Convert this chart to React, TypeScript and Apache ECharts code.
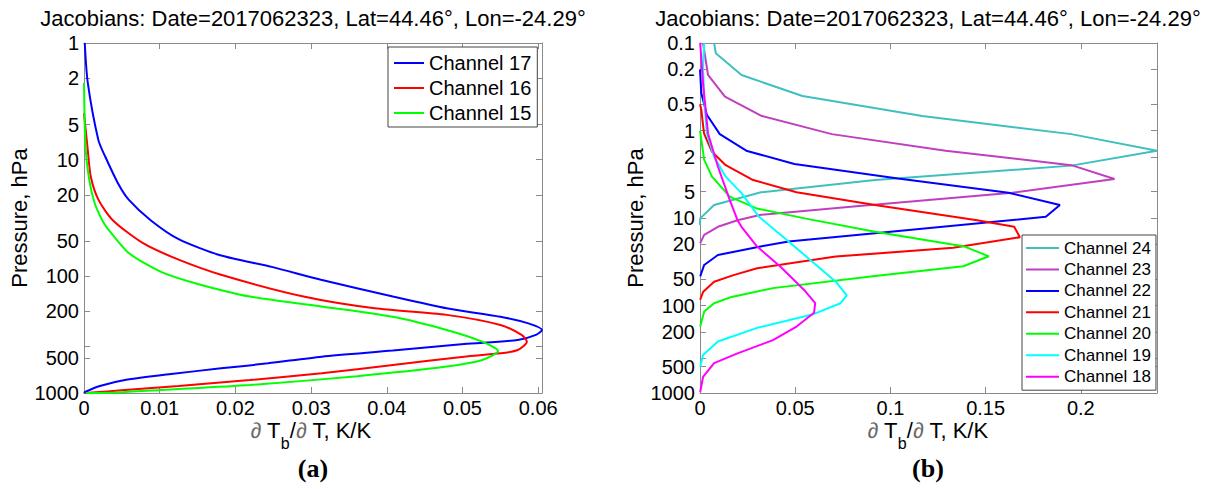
import React, { useEffect, useRef } from 'react';
import * as echarts from 'echarts';

const FONT = "'Liberation Sans', Arial, Helvetica, sans-serif";
const SERIF = "'Liberation Serif', 'Times New Roman', serif";
const TITLE = 'Jacobians: Date=2017062323, Lat=44.46°, Lon=-24.29°';

// ---------- axis ticks ----------
const leftXTicks = [0, 0.01, 0.02, 0.03, 0.04, 0.05, 0.06];
const rightXTicks = [0, 0.05, 0.1, 0.15, 0.2];
const leftPLabels = [1, 2, 5, 10, 20, 50, 100, 200, 500, 1000];
const leftPTicks = [1, 2, 5, 10, 20, 50, 100, 200, 400, 500, 1000];
const rightPLabels = [0.1, 0.2, 0.5, 1, 2, 5, 10, 20, 50, 100, 200, 500, 1000];
const rightPTicks = [0.1, 0.2, 0.5, 1, 2, 5, 10, 20, 50, 100, 200, 400, 500, 1000];

// ---------- panel (a) ----------
const ch17P = [1, 2.2, 6.8, 9.4, 16, 22, 33, 48, 66, 83, 107, 149, 188, 222, 253, 288, 318, 351, 380, 433, 488, 557, 615, 687, 774, 871, 975, 1000];
const ch17V = [0.0001, 0.0005, 0.0019, 0.0028, 0.0045, 0.0059, 0.0088, 0.0125, 0.018, 0.0248, 0.0313, 0.0408, 0.0479, 0.055, 0.0587, 0.0605, 0.0597, 0.0573, 0.0502, 0.0408, 0.0314, 0.0243, 0.0181, 0.0115, 0.0054, 0.0021, 0.0002, 0];

const ch16P = [4, 8.3, 14, 22, 33, 52, 72, 97, 149, 188, 214, 261, 318, 363, 428, 457, 488, 575, 678, 774, 871, 943, 1000];
const ch16V = [0, 0.0005, 0.0009, 0.0019, 0.0038, 0.0078, 0.0125, 0.0181, 0.029, 0.0384, 0.0479, 0.055, 0.0578, 0.0585, 0.0573, 0.055, 0.0502, 0.0408, 0.0314, 0.0219, 0.0125, 0.0054, 0.0002];

const ch15P = [2.2, 7.7, 15, 23.5, 33, 38, 63, 91, 115, 149, 181, 222, 288, 363, 437, 522, 594, 718, 855, 943, 990, 1000];
const ch15V = [0, 0.0002, 0.0007, 0.0014, 0.0024, 0.003, 0.0059, 0.0101, 0.0148, 0.0219, 0.0314, 0.0408, 0.0479, 0.0526, 0.0547, 0.0526, 0.0479, 0.0361, 0.0219, 0.0101, 0.0045, 0.0003];

// ---------- panel (b) ----------
const ch24P = [0.1, 0.131, 0.232, 0.404, 0.683, 1.1, 1.7, 2.52, 3.68, 5.08, 7.1, 10.1, 12];
const ch24V = [0.0074, 0.0083, 0.0218, 0.0538, 0.1167, 0.195, 0.24, 0.195, 0.0919, 0.032, 0.0074, 0.0001, 0];

const ch23P = [0.1, 0.232, 0.41, 0.683, 1.1, 1.7, 2.49, 3.58, 5.14, 7.3, 9.2, 10.6, 12.6, 15.6, 19.4];
const ch23V = [0.0016, 0.0042, 0.0131, 0.0325, 0.0692, 0.129, 0.195, 0.2177, 0.164, 0.0836, 0.032, 0.0197, 0.0094, 0.0022, 0.0001];

const ch22P = [0.2, 0.376, 0.66, 1.1, 1.7, 2.42, 3.53, 5.14, 7.1, 9.7, 14.6, 18.6, 20.9, 26.5, 34.4, 46.5];
const ch22V = [0, 0.0007, 0.0036, 0.0104, 0.0243, 0.0496, 0.104, 0.162, 0.189, 0.1816, 0.096, 0.0465, 0.0331, 0.0094, 0.0022, 0.0001];

const ch21P = [0.5, 0.58, 1.08, 1.75, 2.49, 3.68, 5.08, 7.1, 10.6, 12.6, 16.6, 21.9, 27.6, 37.6, 45, 53.5, 69.6, 86];
const ch21V = [0, 0.0007, 0.0021, 0.0063, 0.0135, 0.0279, 0.0507, 0.0919, 0.1455, 0.165, 0.168, 0.133, 0.0713, 0.03, 0.0176, 0.0074, 0.0017, 0.0001];

const ch20P = [1, 1.28, 2.17, 3.37, 5.7, 7.8, 10.1, 14.4, 21.2, 27.4, 35.6, 46, 63.3, 79.8, 94.2, 117, 174];
const ch20V = [0, 0.0007, 0.0022, 0.0063, 0.0156, 0.03, 0.055, 0.0919, 0.139, 0.1517, 0.1383, 0.0919, 0.0383, 0.0166, 0.0074, 0.0022, 0.0001];

const ch19P = [0.1, 0.19, 0.45, 1.08, 2.0, 3.37, 5.2, 9.7, 19.4, 53.5, 76.6, 94.2, 127, 180, 258, 368, 505];
const ch19V = [0.0022, 0.0016, 0.0022, 0.0036, 0.0074, 0.0135, 0.0218, 0.031, 0.0476, 0.0713, 0.0771, 0.0738, 0.0589, 0.03, 0.0094, 0.0016, 0.0001];

const ch18P = [0.1, 0.289, 1.08, 2.58, 6.2, 10.6, 12.6, 21.2, 36.3, 66.8, 94.2, 121, 174, 249, 352, 455, 656, 975];
const ch18V = [0.0001, 0.0016, 0.0042, 0.0094, 0.0156, 0.0197, 0.0218, 0.03, 0.0424, 0.0548, 0.0605, 0.0599, 0.0507, 0.0383, 0.0197, 0.0074, 0.0016, 0.0001];

const FRAME = '#8a8a8a';

function pairs(v: number[], p: number[]) {
  return v.map((x, i) => [x, p[i]]);
}

function fmt(v: number) {
  return String(Number(Number(v).toPrecision(6)));
}

function xAxes(gridIndex: number, max: number, ticks: number[]) {
  const base: any = {
    type: 'value',
    gridIndex,
    min: 0,
    max,
    splitLine: { show: false },
    axisLine: { show: true, onZero: false, lineStyle: { color: FRAME, width: 1 } },
    axisTick: { show: true, inside: true, length: 6, customValues: ticks, lineStyle: { color: FRAME } },
  };
  return [
    {
      ...base,
      position: 'bottom',
      axisLabel: { customValues: ticks, formatter: fmt, color: '#000', fontSize: 20, fontFamily: FONT, margin: 5 },
    },
    { ...base, position: 'top', axisLabel: { show: false } },
  ];
}

function yAxes(gridIndex: number, min: number, labels: number[], ticks: number[]) {
  const base: any = {
    type: 'log',
    logBase: 10,
    gridIndex,
    min,
    max: 1000,
    inverse: true,
    splitLine: { show: false },
    minorTick: { show: false },
    axisLine: { show: true, onZero: false, lineStyle: { color: FRAME, width: 1 } },
    axisTick: { show: true, inside: true, length: 6, customValues: ticks, lineStyle: { color: FRAME } },
  };
  return [
    {
      ...base,
      position: 'left',
      axisLabel: { customValues: labels, formatter: fmt, color: '#000', fontSize: 20, fontFamily: FONT, margin: 5 },
      name: 'Pressure, hPa',
      nameLocation: 'middle',
      nameRotate: 90,
      nameGap: 53,
      nameTextStyle: { color: '#000', fontSize: 22, fontFamily: FONT },
    },
    { ...base, position: 'right', axisLabel: { show: false } },
  ];
}

function line(name: string, color: string, v: number[], p: number[], xi: number, yi: number, smooth: boolean) {
  return {
    type: 'line',
    name,
    xAxisIndex: xi,
    yAxisIndex: yi,
    data: pairs(v, p),
    showSymbol: false,
    symbol: 'none',
    smooth: smooth ? 0.25 : false,
    lineStyle: { color, width: 2 },
    itemStyle: { color },
    color,
    silent: true,
  };
}

// x-axis title pieces: "∂ T_b/∂ T, K/K"
const XNAME_PIECES = [
  { t: '∂', c: '#6a6a6a', sub: false },
  { t: ' T', c: '#000', sub: false },
  { t: 'b', c: '#000', sub: true },
  { t: '/', c: '#000', sub: false },
  { t: '∂', c: '#6a6a6a', sub: false },
  { t: ' T, K/K', c: '#000', sub: false },
];

function xNameGraphics(cx: number, y: number) {
  const canvas = document.createElement('canvas');
  const ctx = canvas.getContext('2d') as CanvasRenderingContext2D;
  const sizes = XNAME_PIECES.map((p) => (p.sub ? 16 : 22));
  const widths = XNAME_PIECES.map((p, i) => {
    ctx.font = `${sizes[i]}px ${FONT}`;
    return ctx.measureText(p.t).width;
  });
  const total = widths.reduce((a, b) => a + b, 0);
  let x = cx - total / 2;
  return XNAME_PIECES.map((p, i) => {
    const el = {
      type: 'text',
      x,
      y: p.sub ? y + 13 : y,
      silent: true,
      style: {
        text: p.t,
        fill: p.c,
        fontSize: sizes[i],
        fontFamily: FONT,
        align: 'left',
        verticalAlign: 'middle',
      },
    };
    x += widths[i];
    return el;
  });
}

export default function App() {
  const ref = useRef<HTMLDivElement>(null);

  useEffect(() => {
    if (!ref.current) return;
    const chart = echarts.init(ref.current, null, { renderer: 'svg' });
    const legendBase: any = {
      orient: 'vertical',
      icon: 'rect',
      itemHeight: 2,
      borderColor: '#444',
      borderWidth: 1,
      borderRadius: 0,
      backgroundColor: '#fff',
      selectedMode: false,
    };
    const option: any = {
      animation: false,
      backgroundColor: '#fff',
      grid: [
        { left: 84, top: 43, width: 458, height: 350, containLabel: false, outerBoundsMode: 'none' },
        { left: 700, top: 43, width: 457, height: 350, containLabel: false, outerBoundsMode: 'none' },
      ],
      xAxis: [...xAxes(0, 0.0605, leftXTicks), ...xAxes(1, 0.24, rightXTicks)],
      yAxis: [...yAxes(0, 1, leftPLabels, leftPTicks), ...yAxes(1, 0.1, rightPLabels, rightPTicks)],
      legend: [
        {
          ...legendBase,
          data: ['Channel 17', 'Channel 16', 'Channel 15'],
          left: 388,
          top: 47,
          itemWidth: 30,
          itemGap: 5,
          padding: [6, 6, 4, 6],
          textStyle: { fontSize: 20, fontFamily: FONT, color: '#000' },
        },
        {
          ...legendBase,
          data: ['Channel 24', 'Channel 23', 'Channel 22', 'Channel 21', 'Channel 20', 'Channel 19', 'Channel 18'],
          left: 1022,
          top: 235,
          itemWidth: 33,
          itemGap: 4.45,
          padding: [4.5, 5, 5, 4],
          textStyle: { fontSize: 17, fontFamily: FONT, color: '#000' },
        },
      ],
      series: [
        line('Channel 17', '#0000ff', ch17V, ch17P, 0, 0, true),
        line('Channel 16', '#ff0000', ch16V, ch16P, 0, 0, true),
        line('Channel 15', '#00ff00', ch15V, ch15P, 0, 0, true),
        line('Channel 24', '#40bfbf', ch24V, ch24P, 2, 2, false),
        line('Channel 23', '#bf40bf', ch23V, ch23P, 2, 2, false),
        line('Channel 22', '#0000ff', ch22V, ch22P, 2, 2, false),
        line('Channel 21', '#ff0000', ch21V, ch21P, 2, 2, false),
        line('Channel 20', '#00ff00', ch20V, ch20P, 2, 2, false),
        line('Channel 19', '#00ffff', ch19V, ch19P, 2, 2, false),
        line('Channel 18', '#ff00ff', ch18V, ch18P, 2, 2, false),
      ],
      graphic: [
        { type: 'text', x: 313, y: 18, style: { text: TITLE, fill: '#000', fontSize: 22, fontFamily: FONT, align: 'center', verticalAlign: 'middle' } },
        { type: 'text', x: 928, y: 18, style: { text: TITLE, fill: '#000', fontSize: 22, fontFamily: FONT, align: 'center', verticalAlign: 'middle' } },
        ...xNameGraphics(311, 430),
        ...xNameGraphics(928, 430),
        { type: 'text', x: 313, y: 468, style: { text: '(a)', fill: '#000', fontSize: 26, fontWeight: 'bold', fontFamily: SERIF, align: 'center', verticalAlign: 'middle' } },
        { type: 'text', x: 928, y: 468, style: { text: '(b)', fill: '#000', fontSize: 26, fontWeight: 'bold', fontFamily: SERIF, align: 'center', verticalAlign: 'middle' } },
      ],
    };
    chart.setOption(option);
    return () => chart.dispose();
  }, []);

  return (
    <div
      ref={ref}
      style={{ position: 'fixed', left: 0, top: 0, width: 1216, height: 489, background: '#fff' }}
    />
  );
}
